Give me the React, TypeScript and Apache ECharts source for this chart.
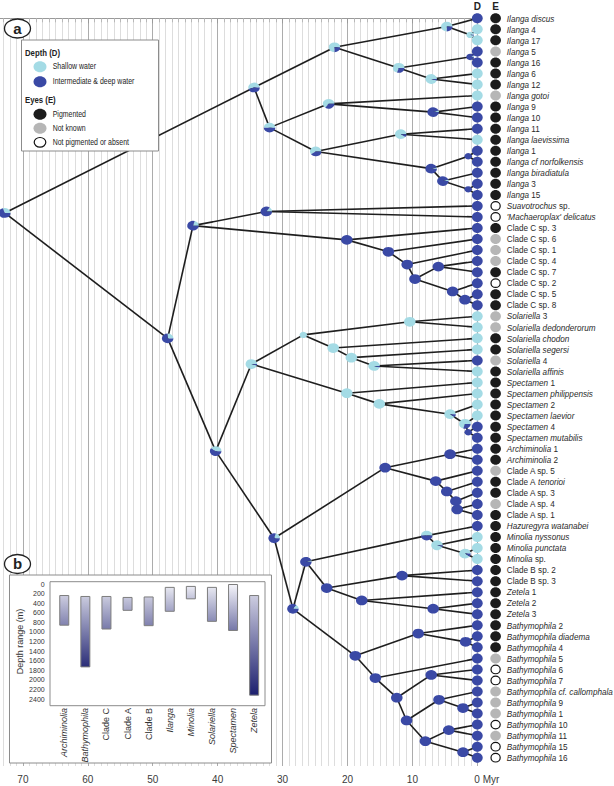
import React, { useEffect, useRef } from 'react';
import * as echarts from 'echarts';

const FONT = '"Liberation Sans", Arial, Helvetica, sans-serif';
const SHALLOW = '#a4dbe5';
const DEEP = '#3a49a5';
const PIGMENTED = '#1c1c1c';
const UNKNOWN = '#b6b6b6';
const TEXT = '#2a2a2a';
// the chart canvas starts this many pixels left of the page so the time axis can run to 80 Myr
const SHIFT = 42;

// ---------------- DATA ----------------
const tipNames: string[] = [
  '{i|Ilanga discus}',
  '{i|Ilanga}{n| 4}',
  '{i|Ilanga}{n| 17}',
  '{i|Ilanga}{n| 5}',
  '{i|Ilanga}{n| 16}',
  '{i|Ilanga}{n| 6}',
  '{i|Ilanga}{n| 12}',
  '{i|Ilanga gotoi}',
  '{i|Ilanga}{n| 9}',
  '{i|Ilanga}{n| 10}',
  '{i|Ilanga}{n| 11}',
  '{i|Ilanga laevissima}',
  '{i|Ilanga}{n| 1}',
  '{i|Ilanga cf norfolkensis}',
  '{i|Ilanga biradiatula}',
  '{i|Ilanga}{n| 3}',
  '{i|Ilanga}{n| 15}',
  '{i|Suavotrochus}{n| sp.}',
  "{i|'Machaeroplax' delicatus}",
  '{n|Clade C sp. 3}',
  '{n|Clade C sp. 6}',
  '{n|Clade C sp. 1}',
  '{n|Clade C sp. 4}',
  '{n|Clade C sp. 7}',
  '{n|Clade C sp. 2}',
  '{n|Clade C sp. 5}',
  '{n|Clade C sp. 8}',
  '{i|Solariella}{n| 3}',
  '{i|Solariella dedonderorum}',
  '{i|Solariella chodon}',
  '{i|Solariella segersi}',
  '{i|Solariella}{n| 4}',
  '{i|Solariella affinis}',
  '{i|Spectamen}{n| 1}',
  '{i|Spectamen philippensis}',
  '{i|Spectamen}{n| 2}',
  '{i|Spectamen laevior}',
  '{i|Spectamen}{n| 4}',
  '{i|Spectamen mutabilis}',
  '{i|Archiminolia}{n| 1}',
  '{i|Archiminolia}{n| 2}',
  '{n|Clade A sp. 5}',
  '{n|Clade A }{i|tenorioi}',
  '{n|Clade A sp. 3}',
  '{n|Clade A sp. 4}',
  '{n|Clade A sp. 1}',
  '{i|Hazuregyra watanabei}',
  '{i|Minolia nyssonus}',
  '{i|Minolia punctata}',
  '{i|Minolia}{n| sp.}',
  '{n|Clade B sp. 2}',
  '{n|Clade B sp. 3}',
  '{i|Zetela}{n| 1}',
  '{i|Zetela}{n| 2}',
  '{i|Zetela}{n| 3}',
  '{i|Bathymophila}{n| 2}',
  '{i|Bathymophila diadema}',
  '{i|Bathymophila}{n| 4}',
  '{i|Bathymophila}{n| 5}',
  '{i|Bathymophila}{n| 6}',
  '{i|Bathymophila}{n| 7}',
  '{i|Bathymophila cf. callomphala}',
  '{i|Bathymophila}{n| 9}',
  '{i|Bathymophila}{n| 1}',
  '{i|Bathymophila}{n| 10}',
  '{i|Bathymophila}{n| 11}',
  '{i|Bathymophila}{n| 15}',
  '{i|Bathymophila}{n| 16}',
];

// D = intermediate & deep, S = shallow
const tipDepth: string[] = (
  'DSSDDSSSDDDSDDDDD' + 'DD' + 'DDDDDDDD' + 'SSSSDS' + 'SSSSDD' + 'DD' + 'DDDDD' + 'DSSS' + 'DD' + 'DDD' + 'DDDDDDDDDDDDD'
).split('');

// P = pigmented, U = not known, A = not pigmented or absent
const tipEyes: string[] = (
  'PPPUPPPUPPPPPPPPP' + 'AA' + 'PUUUPAPP' + 'UUPPUP' + 'PPPPPP' + 'PP' + 'UPPUP' + 'PPPP' + 'PP' + 'PPP' + 'PPPUAAUUUAUAA'
).split('');

// [node, age (Myr), child A, child B, probability of intermediate/deep water]
type Child = number | string;
const treeNodes: [string, number, Child, Child, number][] = [
  ['I1', 1.1, 1, 2, 0.05],
  ['I2', 4.7, 0, 'I1', 0.25],
  ['I3', 1.1, 3, 4, 0.95],
  ['I4', 7.1, 5, 6, 0.05],
  ['I5', 12.1, 'I3', 'I4', 0.3],
  ['I6', 22.0, 'I2', 'I5', 0.25],
  ['I7', 6.8, 8, 9, 0.95],
  ['I8', 22.9, 7, 'I7', 0.35],
  ['I9', 11.8, 10, 11, 0.1],
  ['I10', 1.4, 12, 13, 1],
  ['I11', 1.4, 15, 16, 1],
  ['I12', 5.3, 14, 'I11', 0.95],
  ['I13', 7.1, 'I10', 'I12', 0.95],
  ['I14', 24.9, 'I9', 'I13', 0.4],
  ['I15', 32.0, 'I8', 'I14', 0.5],
  ['I16', 34.4, 'I6', 'I15', 0.45],
  ['S1', 32.5, 17, 18, 0.85],
  ['C6', 1.9, 25, 26, 1],
  ['C5', 3.8, 24, 'C6', 1],
  ['C4', 6.0, 22, 23, 1],
  ['C3', 9.6, 'C4', 'C5', 1],
  ['C2', 10.8, 21, 'C3', 1],
  ['C1', 13.7, 20, 'C2', 1],
  ['C0', 20.1, 19, 'C1', 1],
  ['SC', 43.8, 'S1', 'C0', 0.8],
  ['So1', 10.4, 27, 28, 0],
  ['So4', 15.9, 31, 32, 0.05],
  ['So3', 19.4, 30, 'So4', 0],
  ['So2', 22.2, 29, 'So3', 0],
  ['So0', 26.8, 'So1', 'So2', 0],
  ['Sp4', 1.4, 37, 38, 1],
  ['Sp3', 1.9, 36, 'Sp4', 0.3],
  ['Sp2', 4.2, 35, 'Sp3', 0.1],
  ['Sp1', 15.1, 34, 'Sp2', 0],
  ['Sp0', 20.1, 33, 'Sp1', 0],
  ['SS', 34.8, 'So0', 'Sp0', 0.05],
  ['Ar', 4.2, 39, 40, 1],
  ['A3', 3.1, 44, 45, 1],
  ['A2', 3.3, 43, 'A3', 1],
  ['A1', 4.7, 42, 'A2', 1],
  ['A0', 6.4, 41, 'A1', 1],
  ['AA', 14.2, 'Ar', 'A0', 1],
  ['M2', 1.9, 48, 49, 0.1],
  ['M1', 6.2, 47, 'M2', 0.05],
  ['M0', 7.8, 46, 'M1', 0.5],
  ['B0', 11.6, 50, 51, 1],
  ['Z1', 6.8, 53, 54, 1],
  ['Z0', 17.8, 52, 'Z1', 1],
  ['BZ', 23.2, 'B0', 'Z0', 1],
  ['MBZ', 26.4, 'M0', 'BZ', 0.95],
  ['Bf', 1.8, 56, 57, 1],
  ['Be', 9.1, 55, 'Bf', 1],
  ['Bi', 7.1, 59, 60, 1],
  ['Bl', 2.2, 62, 63, 1],
  ['Bk', 5.9, 61, 'Bl', 1],
  ['Bn', 4.4, 64, 65, 1],
  ['Bp', 2.2, 66, 67, 1],
  ['Bo', 8.0, 'Bn', 'Bp', 1],
  ['Bm', 10.9, 'Bk', 'Bo', 1],
  ['Bj', 12.4, 'Bi', 'Bm', 1],
  ['Bh', 15.7, 58, 'Bj', 1],
  ['Bg', 18.8, 'Be', 'Bh', 1],
  ['MBZB', 28.4, 'MBZ', 'Bg', 0.85],
  ['AM', 31.3, 'AA', 'MBZB', 0.8],
  ['SAM', 40.3, 'SS', 'AM', 0.6],
  ['D0', 47.7, 'SC', 'SAM', 0.75],
  ['Root', 72.8, 'I16', 'D0', 0.7],
];

// inset (b): depth ranges per genus/clade
const genera = ['Archiminolia', 'Bathymophila', 'Clade C', 'Clade A', 'Clade B', 'Ilanga', 'Minolia', 'Solariella', 'Spectamen', 'Zetela'];
const generaItalic = [true, true, false, false, false, true, true, true, true, true];
const depthTop = [230, 250, 250, 270, 260, 60, 40, 60, 0, 230];
const depthBottom = [870, 1740, 950, 560, 880, 580, 320, 790, 980, 2330];

// style-only list of nodes drawn smaller
const smallNodes = ['I1', 'I3', 'I10', 'I11', 'So0', 'Sp4'];

// ---------------- derived ----------------
const nodeMap = new Map(treeNodes.map((n) => [n[0], n]));
const yCache = new Map<string, number>();
function yOf(c: Child): number {
  if (typeof c === 'number') return c;
  const cached = yCache.get(c);
  if (cached !== undefined) return cached;
  const n = nodeMap.get(c)!;
  const y = (yOf(n[2]) + yOf(n[3])) / 2;
  yCache.set(c, y);
  return y;
}
function ageOf(c: Child): number {
  return typeof c === 'number' ? 0 : nodeMap.get(c)![1];
}
const edgeData: number[][] = [];
treeNodes.forEach((n) => {
  [n[2], n[3]].forEach((c) => {
    edgeData.push([n[1], yOf(n[0]), ageOf(c), yOf(c)]);
  });
});
const nodeData = treeNodes.map((n) => [n[1], yOf(n[0]), n[4]]);
const tipData = tipNames.map((_, i) => [0, i]);

function depthColor(d: number): string {
  const t = Math.pow(Math.min(1, d / 1900), 0.8);
  const a = [245, 245, 250];
  const b = [28, 31, 110];
  const c = a.map((v, k) => Math.round(v + (b[k] - v) * t));
  return `rgb(${c[0]},${c[1]},${c[2]})`;
}

const RICH_TIP = {
  i: { fontStyle: 'italic', fontSize: 9.5, fontFamily: FONT, fill: TEXT, color: TEXT },
  n: { fontStyle: 'normal', fontSize: 9.5, fontFamily: FONT, fill: TEXT, color: TEXT },
};

function buildOption(): any {
  const X = (v: number) => v + SHIFT;
  const legendText = (x: number, y: number, text: string, bold = false) => ({
    type: 'text',
    z: 12,
    x: X(x),
    y,
    scaleX: 0.82,
    style: {
      text,
      fontSize: bold ? 9.5 : 8.5,
      fontWeight: bold ? 'bold' : 'normal',
      fontFamily: FONT,
      fill: '#222',
      textAlign: 'left',
      textVerticalAlign: 'middle',
    },
  });
  const legendDot = (y: number, fill: string, open = false) => ({
    type: 'ellipse',
    z: 12,
    shape: { cx: X(40), cy: y, rx: open ? 5.8 : 6.5, ry: open ? 4.8 : 5.5 },
    style: { fill, stroke: open ? '#111' : undefined, lineWidth: open ? 1.2 : 0 },
  });
  const header = (x: number, text: string) => ({
    type: 'text', z: 12, x: X(x), y: 6,
    style: { text, fontSize: 10, fontWeight: 'bold', fontFamily: FONT, fill: '#222', textAlign: 'center', textVerticalAlign: 'middle' },
  });
  const panelLabel = (cy: number, text: string) => [
    { type: 'ellipse', z: 20, shape: { cx: X(17.5), cy, rx: 13, ry: 9.5 }, style: { fill: '#fff', stroke: '#222', lineWidth: 1.3 } },
    {
      type: 'text', z: 21, x: X(17.5), y: cy - 0.5,
      style: { text, fontSize: 15, fontWeight: 'bold', fontFamily: FONT, fill: '#222', textAlign: 'center', textVerticalAlign: 'middle' },
    },
  ];

  return {
    animation: false,
    backgroundColor: '#ffffff',
    grid: [
      { left: 0, right: 136.7, top: 18, bottom: 20 },
      { left: X(53.7), right: 349.3, top: 584, bottom: 87 },
    ],
    xAxis: [
      {
        gridIndex: 0,
        type: 'value',
        min: 0,
        max: 80,
        interval: 10,
        inverse: true,
        axisLine: { show: true, lineStyle: { color: '#9a9a9a', width: 1 } },
        axisTick: { show: true, length: 5, lineStyle: { color: '#9a9a9a' } },
        minorTick: { show: true, splitNumber: 10, length: 4, lineStyle: { color: '#b8b8b8' } },
        splitLine: { show: true, lineStyle: { color: '#acacac', width: 1 } },
        minorSplitLine: { show: true, lineStyle: { color: '#dddddd', width: 1 } },
        axisLabel: {
          margin: 8,
          fontSize: 10,
          fontFamily: FONT,
          color: '#3a3a3a',
          showMaxLabel: false,
          formatter: (v: number) => (v === 0 ? '{z|0 Myr}' : String(v)),
          rich: { z: { padding: [0, 0, 0, 19], fontSize: 10, fontFamily: FONT, color: '#3a3a3a' } },
        },
      },
      {
        gridIndex: 1,
        type: 'category',
        data: genera,
        z: 12,
        axisLine: { show: false },
        axisTick: { show: false },
        splitLine: { show: false },
        axisLabel: {
          rotate: 90,
          margin: 9,
          interval: 0,
          fontSize: 9,
          fontFamily: FONT,
          color: '#333',
          formatter: (v: string, i: number) => (generaItalic[i] ? `{i|${v}}` : `{n|${v}}`),
          rich: {
            i: { fontStyle: 'italic', fontSize: 9, fontFamily: FONT, color: '#333' },
            n: { fontStyle: 'normal', fontSize: 9, fontFamily: FONT, color: '#333' },
          },
        },
      },
    ],
    yAxis: [
      { gridIndex: 0, type: 'value', min: -0.027, max: 67.75, inverse: true, show: false },
      {
        gridIndex: 1,
        type: 'value',
        min: 0,
        max: 2400,
        interval: 200,
        inverse: true,
        z: 12,
        axisLine: { show: false },
        axisTick: { show: false },
        splitLine: { show: false },
        axisLabel: { fontSize: 7, fontFamily: FONT, color: '#333', margin: 9, formatter: (v: number) => String(v) },
        name: 'Depth range (m)',
        nameLocation: 'middle',
        nameGap: 29,
        nameRotate: 90,
        nameTextStyle: { fontSize: 9, fontFamily: FONT, color: '#333' },
      },
    ],
    series: [
      {
        type: 'custom',
        name: 'branches',
        xAxisIndex: 0,
        yAxisIndex: 0,
        z: 3,
        silent: true,
        data: edgeData,
        encode: { x: [0, 2], y: [1, 3] },
        renderItem: (params: any, api: any) => {
          const p1 = api.coord([api.value(0), api.value(1)]);
          const p2 = api.coord([api.value(2), api.value(3)]);
          return {
            type: 'line',
            shape: { x1: p1[0], y1: p1[1], x2: p2[0], y2: p2[1] },
            style: { stroke: '#1e1e1e', lineWidth: 1.6 },
          };
        },
      },
      {
        type: 'custom',
        name: 'tips',
        xAxisIndex: 0,
        yAxisIndex: 0,
        z: 4,
        silent: true,
        data: tipData,
        encode: { x: 0, y: 1 },
        renderItem: (params: any, api: any) => {
          const i = params.dataIndex;
          const p = api.coord([api.value(0), api.value(1)]);
          const eye = tipEyes[i];
          const open = eye === 'A';
          return {
            type: 'group',
            children: [
              {
                type: 'ellipse',
                shape: { cx: p[0], cy: p[1], rx: 5.4, ry: 5 },
                style: { fill: tipDepth[i] === 'S' ? SHALLOW : DEEP },
              },
              {
                type: 'ellipse',
                shape: { cx: p[0] + 18.3, cy: p[1], rx: open ? 4.6 : 5.3, ry: open ? 4.3 : 5 },
                style: {
                  fill: eye === 'P' ? PIGMENTED : eye === 'U' ? UNKNOWN : '#ffffff',
                  stroke: open ? '#111' : undefined,
                  lineWidth: open ? 1.2 : 0,
                },
              },
              {
                type: 'text',
                x: p[0] + 29.5,
                y: p[1],
                scaleX: 0.86,
                style: {
                  text: tipNames[i],
                  textAlign: 'left',
                  textVerticalAlign: 'middle',
                  fontSize: 9.5,
                  fontFamily: FONT,
                  fill: TEXT,
                  rich: RICH_TIP,
                },
              },
            ],
          };
        },
      },
      {
        type: 'custom',
        name: 'nodes',
        xAxisIndex: 0,
        yAxisIndex: 0,
        z: 5,
        silent: true,
        data: nodeData,
        encode: { x: 0, y: 1 },
        renderItem: (params: any, api: any) => {
          const p = api.coord([api.value(0), api.value(1)]);
          const d = api.value(2);
          const id = treeNodes[params.dataIndex][0];
          const r = smallNodes.indexOf(id) >= 0 ? 3.8 : 5.8;
          const children: any[] = [];
          if (d <= 0.001 || d >= 0.999) {
            children.push({ type: 'circle', shape: { cx: 0, cy: 0, r }, style: { fill: d >= 0.999 ? DEEP : SHALLOW } });
          } else {
            const a = 2 * Math.PI * (1 - d);
            children.push({
              type: 'sector',
              shape: { cx: 0, cy: 0, r0: 0, r, startAngle: -a, endAngle: 0, clockwise: true },
              style: { fill: SHALLOW },
            });
            children.push({
              type: 'sector',
              shape: { cx: 0, cy: 0, r0: 0, r, startAngle: 0, endAngle: 2 * Math.PI * d, clockwise: true },
              style: { fill: DEEP },
            });
          }
          return { type: 'group', x: p[0], y: p[1], scaleY: 0.84, children };
        },
      },
      {
        type: 'bar',
        name: 'base',
        xAxisIndex: 1,
        yAxisIndex: 1,
        stack: 'depth',
        barWidth: 10,
        z: 13,
        silent: true,
        itemStyle: { color: 'rgba(0,0,0,0)' },
        data: depthTop,
      },
      {
        type: 'bar',
        name: 'range',
        xAxisIndex: 1,
        yAxisIndex: 1,
        stack: 'depth',
        barWidth: 10,
        z: 13,
        silent: true,
        itemStyle: { borderColor: '#7d7d7d', borderWidth: 1 },
        data: depthBottom.map((b, i) => ({
          value: b - depthTop[i],
          itemStyle: {
            color: new echarts.graphic.LinearGradient(0, 0, 0, 1, [
              { offset: 0, color: depthColor(depthTop[i]) },
              { offset: 1, color: depthColor(b) },
            ]),
          },
        })),
      },
    ],
    graphic: {
      elements: [
        ...panelLabel(28.5, 'a'),
        // legend box
        { type: 'rect', z: 10, shape: { x: X(21.5), y: 40, width: 137, height: 111 }, style: { fill: '#fff', stroke: '#8c8c8c', lineWidth: 1 } },
        legendText(25, 52.5, 'Depth (D)', true),
        legendDot(66.7, SHALLOW),
        legendText(52.7, 66.7, 'Shallow water'),
        legendDot(81.7, DEEP),
        legendText(52.7, 81.7, 'Intermediate & deep water'),
        legendText(25, 100, 'Eyes (E)', true),
        legendDot(114.3, PIGMENTED),
        legendText(52.7, 114.3, 'Pigmented'),
        legendDot(128.3, UNKNOWN),
        legendText(52.7, 128.3, 'Not known'),
        legendDot(142.3, '#ffffff', true),
        legendText(52.7, 142.3, 'Not pigmented or absent'),
        // column headers
        header(477.3, 'D'),
        header(495.6, 'E'),
        // inset box
        { type: 'rect', z: 10, shape: { x: X(9.5), y: 575, width: 262, height: 188 }, style: { fill: '#fff', stroke: '#8c8c8c', lineWidth: 1 } },
        { type: 'rect', z: 11, shape: { x: X(50), y: 581.7, width: 215, height: 124 }, style: { fill: 'none', stroke: '#8c8c8c', lineWidth: 1 } },
        ...panelLabel(564, 'b'),
      ],
    },
  };
}

export default function App() {
  const ref = useRef<HTMLDivElement>(null);
  useEffect(() => {
    if (!ref.current) return;
    const chart = echarts.init(ref.current, null, { renderer: 'svg' });
    chart.setOption(buildOption());
    return () => chart.dispose();
  }, []);
  return (
    <div
      ref={ref}
      style={{ position: 'fixed', left: -SHIFT, top: 0, width: 614 + SHIFT, height: 786, background: '#fff' }}
    />
  );
}
